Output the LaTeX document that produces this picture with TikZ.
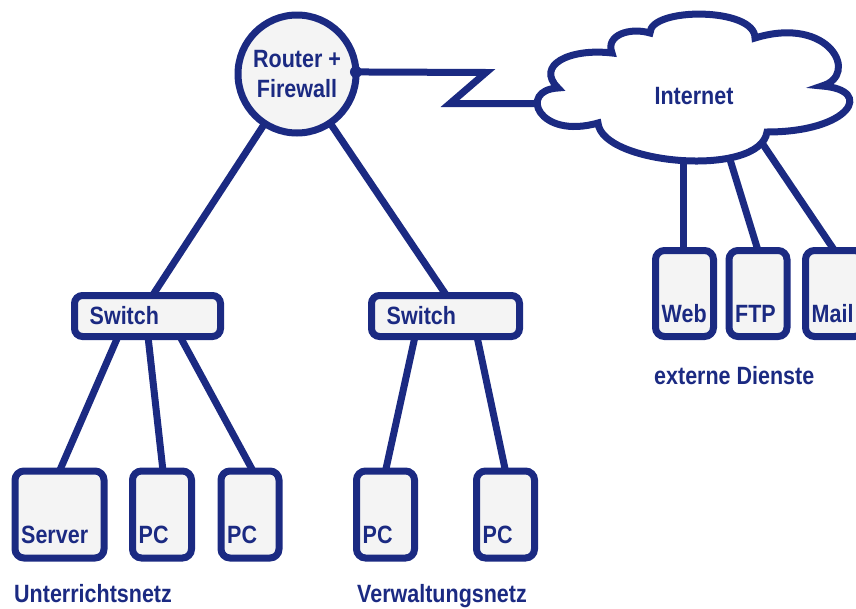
\documentclass[tikz,border=0pt]{standalone}
\usepackage{fontspec}
\setmainfont{Liberation Sans}[FakeStretch=0.86]
\usepackage{tikz}
\usetikzlibrary{positioning}

\definecolor{netblue}{RGB}{27,42,130}
\definecolor{netgray}{RGB}{244,244,244}
\newcommand{\netfont}{\bfseries\fontsize{25}{30}\selectfont}

\begin{document}
\begin{tikzpicture}[x=1pt,y=-1pt,
	wire/.style={draw=netblue,line width=7pt},
	box/.style={wire,fill=netgray,rounded corners=9pt,inner sep=0pt,outer sep=0pt},
	dev/.style={box,minimum width=58pt,minimum height=87pt},
	sw/.style={box,rounded corners=8pt,minimum width=146pt,minimum height=41pt},
	txt/.style={text=netblue,font=\netfont,inner sep=0pt}]
	\useasboundingbox (0,0) rectangle (856,608);

	% router
	\node[wire,fill=netgray,shape=circle,minimum size=118pt,inner sep=0pt,outer sep=0pt,
		text=netblue,font=\netfont,align=center] (router) at (297,74) {Router +\\Firewall};

	% switches
	\node[sw] (lsw) at (147.5,316) {};
	\node[sw,minimum width=148pt] (rsw) at (445.5,316) {};
	\node[txt,anchor=west] (lswt) at ([xshift=15pt]lsw.west) {Switch};
	\node[txt,anchor=west] (rswt) at ([xshift=15pt]rsw.west) {Switch};

	% end devices
	\node[dev,minimum width=89pt] (srv) at (59.5,514.5) {};
	\node[dev,minimum width=59pt] (pc1) at (162,514.5) {};
	\node[dev] (pc2) at (250,514.5) {};
	\node[dev] (pc3) at (385.5,514.5) {};
	\node[dev] (pc4) at (505.5,514.5) {};
	\node[txt,anchor=base west] (srvt) at ([xshift=6pt,yshift=15pt]srv.south west) {Server};
	\node[txt,anchor=base west] (pc1t) at ([xshift=6pt,yshift=15pt]pc1.south west) {PC};
	\node[txt,anchor=base west] (pc2t) at ([xshift=6pt,yshift=15pt]pc2.south west) {PC};
	\node[txt,anchor=base west] (pc3t) at ([xshift=6pt,yshift=15pt]pc3.south west) {PC};
	\node[txt,anchor=base west] (pc4t) at ([xshift=6pt,yshift=15pt]pc4.south west) {PC};

	% external services
	\node[dev,minimum height=86pt] (web) at (684.5,293.5) {};
	\node[dev,minimum height=86pt] (ftp) at (758,293.5) {};
	\node[dev,minimum height=86pt] (mail) at (834.5,293.5) {};
	\node[txt,anchor=base west] (webt) at ([xshift=6pt,yshift=14pt]web.south west) {Web};
	\node[txt,anchor=base west] (ftpt) at ([xshift=6pt,yshift=14pt]ftp.south west) {FTP};
	\node[txt,anchor=base west] (mailt) at ([xshift=6pt,yshift=14pt]mail.south west) {Mail};

	% group labels
	\node[txt,anchor=base west] (unet) at (14,602) {Unterrichtsnetz};
	\node[txt,anchor=base west] (vnet) at (357,602) {Verwaltungsnetz};
	\node[txt,anchor=base west] (ext) at (654,384) {externe Dienste};

	% links
	\path[wire] (router) edge ([xshift=5pt]lsw.north);
	\path[wire] (router) edge ([xshift=1pt]rsw.north);
	\path[wire] ([xshift=-29.5pt]lsw.south) edge (srv.north);
	\path[wire] ([xshift=0.5pt]lsw.south) edge ([xshift=1pt]pc1.north);
	\path[wire] ([xshift=32.5pt]lsw.south) edge ([xshift=3pt]pc2.north);
	\path[wire] ([xshift=-30.5pt]rsw.south) edge (pc3.north);
	\path[wire] ([xshift=31.5pt]rsw.south) edge (pc4.north);

	% wan link
	\coordinate (zigtop) at (486,72.5);
	\coordinate (zigbot) at (450,103.5);
	\coordinate (cloudin) at (560,103.5);
	\draw[wire] (router.2) -- (zigtop) -- (zigbot) -- (cloudin);
	\fill[netblue] (router.2) circle (6pt);

	\coordinate (c1) at (683,140);
	\coordinate (c2) at (724,140);
	\coordinate (c3) at (760,140);
	\path[wire] (c1) edge ([xshift=-1.5pt]web.north);
	\path[wire] (c2) edge (ftp.north);
	\path[wire] (c3) edge (mail.north);

	% cloud
	\draw[wire,fill=white] (558,88) .. controls (518,90) and (538,140) .. (598,123)
		.. controls (602,165) and (760,178) .. (767,132)
		.. controls (850,132) and (875,90) .. (822,86)
		.. controls (860,75) and (830,15) .. (755,38)
		.. controls (755,7) and (650,7) .. (650,33)
		.. controls (630,27) and (605,35) .. (612,53)
		.. controls (570,48) and (535,65) .. cycle;
	\node[txt] (inet) at (694,96) {Internet};
\end{tikzpicture}
\end{document}
